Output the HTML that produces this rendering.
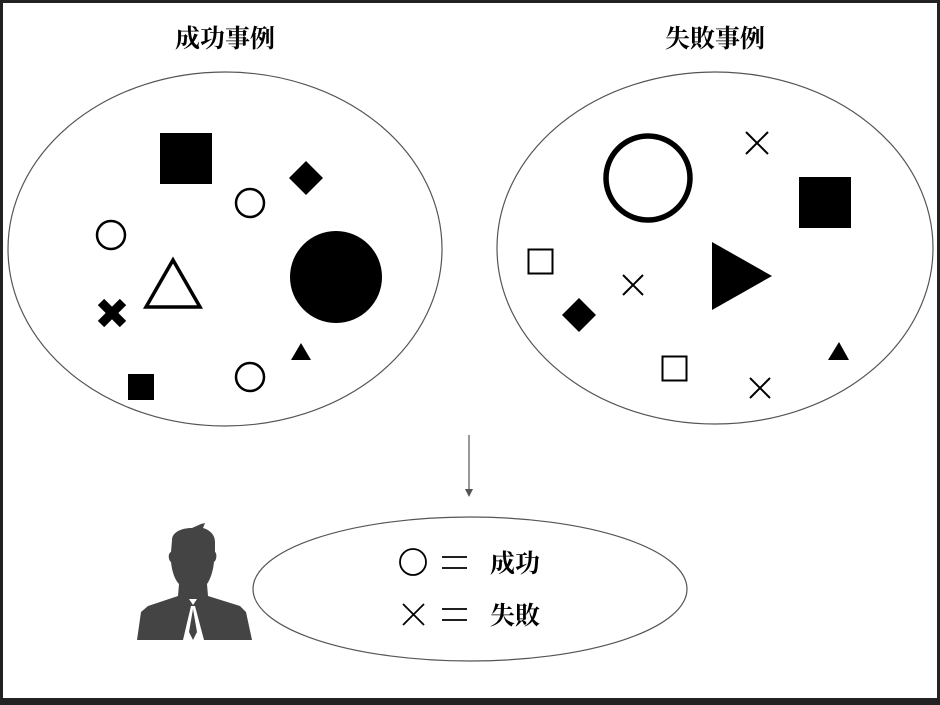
<!DOCTYPE html>
<html><head><meta charset="utf-8"><style>
html,body{margin:0;padding:0;background:#fff}
svg{display:block}
text{font-family:"Liberation Serif","Noto Serif CJK SC",serif;font-weight:bold}
</style></head><body>
<svg width="940" height="705" viewBox="0 0 940 705" xmlns="http://www.w3.org/2000/svg">
<rect x="0" y="0" width="940" height="705" fill="#222"/>
<rect x="3" y="3" width="934" height="695" fill="#fff"/>
<text x="225" y="47" font-size="25" text-anchor="middle">成功事例</text>
<text x="715" y="47" font-size="25" text-anchor="middle">失敗事例</text>
<ellipse cx="225" cy="249" rx="217" ry="177" fill="none" stroke="#555" stroke-width="1.2"/>
<ellipse cx="715" cy="248" rx="218" ry="176" fill="none" stroke="#555" stroke-width="1.2"/>
<!-- left shapes -->
<rect x="160" y="133" width="52" height="51" fill="#000"/>
<polygon points="306,161 323,178 306,195 289,178" fill="#000"/>
<g fill="none" stroke="#000" stroke-width="2.5">
<circle cx="250" cy="203" r="14"/>
<circle cx="111" cy="235" r="14"/>
<circle cx="250" cy="377" r="14"/>
</g>
<polygon points="173,260 146,307 200,307" fill="none" stroke="#000" stroke-width="3.5"/>
<circle cx="336" cy="277" r="46" fill="#000"/>
<g stroke="#000" stroke-width="9"><line x1="101" y1="302" x2="123" y2="324"/><line x1="123" y1="302" x2="101" y2="324"/></g>
<polygon points="301,343 311,360 291,360" fill="#000"/>
<rect x="128" y="374" width="26" height="26" fill="#000"/>
<!-- right shapes -->
<circle cx="648" cy="178" r="42" fill="none" stroke="#000" stroke-width="5.5"/>
<rect x="799" y="177" width="52" height="51" fill="#000"/>
<rect x="528.5" y="249.5" width="24" height="24" fill="none" stroke="#000" stroke-width="2"/>
<rect x="662.5" y="356.5" width="24" height="24" fill="none" stroke="#000" stroke-width="2"/>
<g stroke="#000" stroke-width="2"><line x1="746" y1="132" x2="768" y2="154"/><line x1="768" y1="132" x2="746" y2="154"/>
<line x1="623" y1="275" x2="643" y2="295"/><line x1="643" y1="275" x2="623" y2="295"/>
<line x1="750" y1="378" x2="770" y2="398"/><line x1="770" y1="378" x2="750" y2="398"/></g>
<polygon points="712,242 772,276 712,310" fill="#000"/>
<polygon points="579,298 596,315 579,332 562,315" fill="#000"/>
<polygon points="839,342 849,360 828,360" fill="#000"/>
<!-- arrow -->
<line x1="469" y1="435" x2="469" y2="490" stroke="#555" stroke-width="1.2"/>
<polygon points="465,489 473,489 469,497" fill="#555"/>
<!-- bottom ellipse -->
<ellipse cx="470" cy="589" rx="217" ry="72" fill="none" stroke="#555" stroke-width="1.2"/>
<circle cx="413" cy="562" r="13" fill="none" stroke="#000" stroke-width="1.8"/>
<g stroke="#000" stroke-width="1.8"><line x1="442" y1="557" x2="467" y2="557"/><line x1="442" y1="568" x2="467" y2="568"/>
<line x1="442" y1="609" x2="467" y2="609"/><line x1="442" y1="620" x2="467" y2="620"/>
<line x1="403" y1="604" x2="424" y2="625"/><line x1="424" y1="604" x2="403" y2="625"/></g>
<text x="490" y="572" font-size="25">成功</text>
<text x="490" y="624" font-size="25">失敗</text>
<!-- person -->
<g fill="#444">
<path d="M172,540 C172,533 180,528 192,528 L201,524 L205,523 L203,528 C210,530 215,535 215,542 L215,552 C217,553 217,560 214,562 C213,572 210,580 207,584 L208,596 L240,606 L246,612 L252,640 L137,640 L141,612 L148,606 L178,596 L179,584 C175,580 172,572 171,562 C168,560 168,553 171,552 Z"/>
</g>
<polygon points="189,599 197,599 193,605" fill="#fff"/>
<polygon points="191,606 195,606 204,640 183,640" fill="#fff"/>
<polygon points="193,609 197,632 193,640 189,632" fill="#444"/>
</svg>
</body></html>
